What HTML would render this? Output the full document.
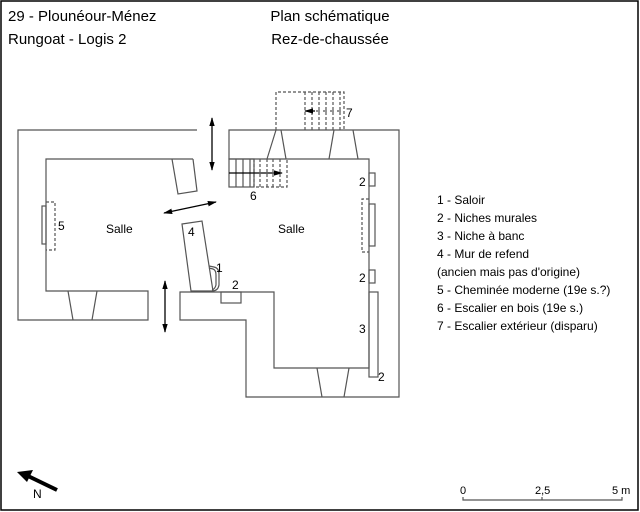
<!DOCTYPE html>
<html><head><meta charset="utf-8"><style>
html,body{margin:0;padding:0;background:#fff}
svg{display:block}
text{font-family:"Liberation Sans",sans-serif;fill:#000}
</style></head><body>
<svg width="640" height="512" viewBox="0 0 640 512" xmlns="http://www.w3.org/2000/svg">
<defs>
<marker id="ah" viewBox="0 0 10 6" refX="9" refY="3" markerWidth="7" markerHeight="5" orient="auto-start-reverse"><path d="M0,0 L10,3 L0,6 z" fill="#000"/></marker>
</defs>
<rect x="1" y="1" width="637" height="509" fill="none" stroke="#000" stroke-width="1.5"/>
<g font-size="15">
<text x="8" y="21">29 - Plounéour-Ménez</text>
<text x="8" y="44">Rungoat - Logis 2</text>
<text x="330" y="21" text-anchor="middle">Plan schématique</text>
<text x="330" y="44" text-anchor="middle">Rez-de-chaussée</text>
</g>
<g fill="none" stroke="#555" stroke-width="1.2">
<!-- left building -->
<path d="M197 130 L18 130 L18 320 L148 320 L148 291 L46 291 L46 159 L193 159"/>
<path d="M172 159 L178 194 L197 191 L193 159"/>
<path d="M68 291 L73 320 M97 291 L92 320"/>
<rect x="42" y="206" width="4" height="38"/>
<path d="M46 202 L55 202 L55 250 L46 250" stroke-dasharray="3,2"/>
<!-- right building -->
<path d="M229 159 L229 130 L399 130 L399 397 L246 397 L246 320 L180 320 L180 292 L274 292 L274 368 L369 368 L369 159 Z"/>
<path d="M267 159 L276 130 M281 130 L286 159 M329 159 L334 130 M353 130 L358 159"/>
<path d="M317 368 L322 397 M349 368 L344 397"/>
<rect x="369" y="173" width="6" height="13"/>
<rect x="369" y="204" width="6" height="42"/>
<path d="M369 199 L362 199 L362 252 L369 252" stroke-dasharray="3,2"/>
<rect x="369" y="270" width="6" height="13"/>
<rect x="369" y="292" width="9" height="85"/>
<rect x="221" y="292" width="20" height="11"/>
<!-- wall 4 -->
<path d="M182 224 L202 221 L213 291 L191 291 Z"/>
<!-- saloir -->
<path d="M209 266 L214 267 Q219 268 219 274 L219 285 Q218 291 212 291" />
<path d="M209 268 L213 269 Q216 270 216 275 L216 285 Q215 289 212 290"/>
<!-- stairs 6 -->
<rect x="229" y="159" width="25" height="28"/>
<path d="M236 159 V187 M243 159 V187 M250 159 V187"/>
<path d="M254 159 V187 H287 V159 M260 159 V187 M267 159 V187 M273 159 V187 M280 159 V187" stroke-dasharray="3,2"/>
<!-- stairs 7 -->
<path d="M276 130 V92 H344 V130 M305 92 V130 M312 92 V130 M319 92 V130 M326 92 V130 M333 92 V130 M340 92 V130" stroke-dasharray="3,2"/>
<path d="M309 111 H343" stroke-dasharray="4,3"/>
</g>
<g stroke="#000" stroke-width="1.3" fill="none">
<line x1="229" y1="173" x2="282" y2="173" marker-end="url(#ah)"/>
<line x1="315" y1="111" x2="305" y2="111" marker-end="url(#ah)"/>
<line x1="212" y1="118" x2="212" y2="170" marker-start="url(#ah)" marker-end="url(#ah)"/>
<line x1="164" y1="213" x2="216" y2="202" marker-start="url(#ah)" marker-end="url(#ah)"/>
<line x1="165" y1="281" x2="165" y2="332" marker-start="url(#ah)" marker-end="url(#ah)"/>
</g>
<g font-size="12">
<text x="106" y="233">Salle</text>
<text x="278" y="233">Salle</text>
<text x="58" y="230">5</text>
<text x="188" y="236">4</text>
<text x="216" y="272">1</text>
<text x="232" y="289">2</text>
<text x="250" y="200">6</text>
<text x="346" y="117">7</text>
<text x="359" y="186">2</text>
<text x="359" y="282">2</text>
<text x="359" y="333">3</text>
<text x="378" y="381">2</text>
</g>
<g font-size="12">
<text x="437" y="204">1 - Saloir</text>
<text x="437" y="222">2 - Niches murales</text>
<text x="437" y="240">3 - Niche à banc</text>
<text x="437" y="258">4 - Mur de refend</text>
<text x="437" y="276">(ancien mais pas d'origine)</text>
<text x="437" y="294">5 - Cheminée moderne (19e s.?)</text>
<text x="437" y="312">6 - Escalier en bois (19e s.)</text>
<text x="437" y="330">7 - Escalier extérieur (disparu)</text>
</g>
<!-- north arrow -->
<line x1="57" y1="490" x2="28" y2="476" stroke="#000" stroke-width="4"/>
<path d="M17 472 L33 470 L27 482 Z" fill="#000"/>
<text x="33" y="498" font-size="12">N</text>
<!-- scale -->
<path d="M463 497 V500 H622 V497 M542 497 V500" stroke="#555" stroke-width="1.2" fill="none"/>
<g font-size="11"><text x="460" y="494">0</text><text x="535" y="494">2,5</text><text x="612" y="494">5 m</text></g>
</svg>
</body></html>
